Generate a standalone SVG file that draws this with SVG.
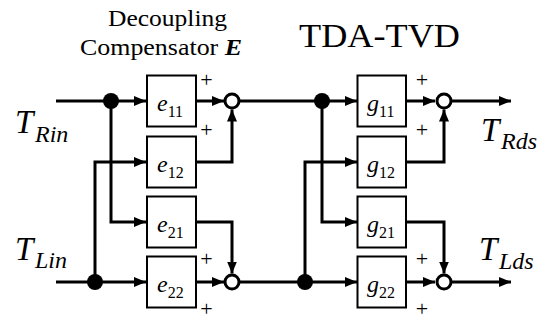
<svg xmlns="http://www.w3.org/2000/svg" width="553" height="322" viewBox="0 0 553 322">
<style>
.blk{fill:#fff;stroke:#000;stroke-width:2}
.sum{fill:#fff;stroke:#000;stroke-width:3}
.dot{fill:#000}
.wire{fill:none;stroke:#000;stroke-width:3}
.tf{font-family:"Liberation Serif","Times New Roman","DejaVu Serif",serif;fill:#000}
</style>
<defs>
<marker id="ah" markerUnits="userSpaceOnUse" markerWidth="13" markerHeight="11" refX="12" refY="5" orient="auto">
<path d="M0,0 L12,5 L0,10 z" fill="#000"/>
</marker>
</defs>

<g id="titles" class="tf">
<text x="167.5" y="26" font-size="24" text-anchor="middle" textLength="119" lengthAdjust="spacingAndGlyphs">Decoupling</text>
<text x="161" y="55" font-size="24" text-anchor="middle" textLength="162" lengthAdjust="spacingAndGlyphs">Compensator <tspan font-weight="bold" font-style="italic">E</tspan></text>
<text x="379.5" y="47" font-size="33" text-anchor="middle" textLength="161" lengthAdjust="spacingAndGlyphs">TDA-TVD</text>
</g>

<g id="connectors">
<path class="wire" d="M56,101 H146" marker-end="url(#ah)"/>
<path class="wire" d="M111,101 V222 H146" marker-end="url(#ah)"/>
<path class="wire" d="M56,282 H146" marker-end="url(#ah)"/>
<path class="wire" d="M95,282 V162 H146" marker-end="url(#ah)"/>
<path class="wire" d="M196,101 H224" marker-end="url(#ah)"/>
<path class="wire" d="M196,162 H232 V109.5" marker-end="url(#ah)"/>
<path class="wire" d="M196,222 H232 V273.5" marker-end="url(#ah)"/>
<path class="wire" d="M196,282 H224" marker-end="url(#ah)"/>
<path class="wire" d="M240,101 H357" marker-end="url(#ah)"/>
<path class="wire" d="M322,101 V222 H357" marker-end="url(#ah)"/>
<path class="wire" d="M240,282 H357" marker-end="url(#ah)"/>
<path class="wire" d="M305,282 V162 H357" marker-end="url(#ah)"/>
<path class="wire" d="M406,101 H435" marker-end="url(#ah)"/>
<path class="wire" d="M406,162 H444 V109.5" marker-end="url(#ah)"/>
<path class="wire" d="M406,222 H444 V273.5" marker-end="url(#ah)"/>
<path class="wire" d="M406,282 H435" marker-end="url(#ah)"/>
<path class="wire" d="M452,101 H511" marker-end="url(#ah)"/>
<path class="wire" d="M452,282 H511" marker-end="url(#ah)"/>
</g>

<g id="junctions">
<circle class="dot" cx="111" cy="101" r="8"/>
<circle class="dot" cx="95" cy="282" r="8"/>
<circle class="dot" cx="322" cy="101" r="8"/>
<circle class="dot" cx="305" cy="282" r="8"/>
</g>

<g id="sum_e1"><circle class="sum" cx="232" cy="101" r="7"/></g>
<g id="sum_e2"><circle class="sum" cx="232" cy="282" r="7"/></g>
<g id="sum_g1"><circle class="sum" cx="444" cy="101" r="7"/></g>
<g id="sum_g2"><circle class="sum" cx="444" cy="282" r="7"/></g>

<g class="tf">
<g id="e11"><rect class="blk" x="147" y="75.5" width="49" height="51"/><text font-style="italic" font-size="24" x="157" y="111">e<tspan font-style="normal" font-size="16" dy="6">11</tspan></text></g>
<g id="e12"><rect class="blk" x="147" y="136.5" width="49" height="51"/><text font-style="italic" font-size="24" x="157" y="172">e<tspan font-style="normal" font-size="16" dy="6">12</tspan></text></g>
<g id="e21"><rect class="blk" x="147" y="196.5" width="49" height="51"/><text font-style="italic" font-size="24" x="157" y="232">e<tspan font-style="normal" font-size="16" dy="6">21</tspan></text></g>
<g id="e22"><rect class="blk" x="147" y="256.5" width="49" height="51"/><text font-style="italic" font-size="24" x="157" y="292">e<tspan font-style="normal" font-size="16" dy="6">22</tspan></text></g>

<g id="g11"><rect class="blk" x="357.5" y="75.5" width="48.5" height="51"/><text font-style="italic" font-size="24" x="367" y="111">g<tspan font-style="normal" font-size="16" dy="6">11</tspan></text></g>
<g id="g12"><rect class="blk" x="357.5" y="136.5" width="48.5" height="51"/><text font-style="italic" font-size="24" x="367" y="172">g<tspan font-style="normal" font-size="16" dy="6">12</tspan></text></g>
<g id="g21"><rect class="blk" x="357.5" y="196.5" width="48.5" height="51"/><text font-style="italic" font-size="24" x="367" y="232">g<tspan font-style="normal" font-size="16" dy="6">21</tspan></text></g>
<g id="g22"><rect class="blk" x="357.5" y="256.5" width="48.5" height="51"/><text font-style="italic" font-size="24" x="367" y="292">g<tspan font-style="normal" font-size="16" dy="6">22</tspan></text></g>

<g id="signs" font-size="22" text-anchor="middle">
<text x="206.5" y="87">+</text>
<text x="206.5" y="137">+</text>
<text x="206.5" y="266">+</text>
<text x="206.5" y="316">+</text>
<text x="422" y="87">+</text>
<text x="422" y="137">+</text>
<text x="422" y="266">+</text>
<text x="422" y="316">+</text>
</g>

<g id="T_Rin"><text font-style="italic" font-size="33" x="15" y="133">T<tspan font-size="24" x="35" y="142">Rin</tspan></text></g>
<g id="T_Lin"><text font-style="italic" font-size="33" x="15" y="260">T<tspan font-size="24" x="35" y="268">Lin</tspan></text></g>
<g id="T_Rds"><text font-style="italic" font-size="33" x="481" y="141">T<tspan font-size="24" x="501" y="149">Rds</tspan></text></g>
<g id="T_Lds"><text font-style="italic" font-size="33" x="479" y="260">T<tspan font-size="24" x="499" y="269">Lds</tspan></text></g>
</g>
</svg>
